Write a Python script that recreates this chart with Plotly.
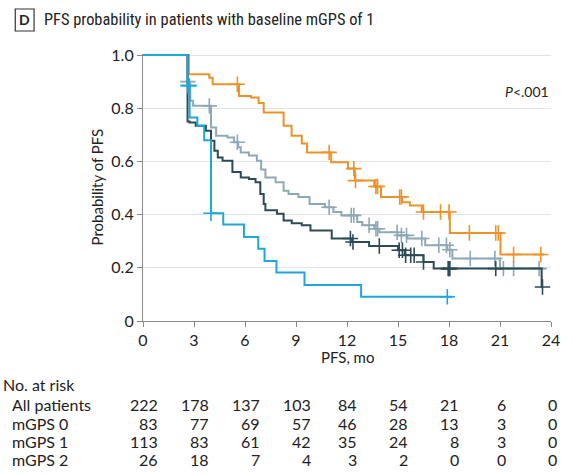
import plotly.graph_objects as go
import numpy as np

FONT = "Lato, Open Sans, sans-serif"
TFONT = "Roboto Condensed, Liberation Sans Narrow, Lato, sans-serif"

# ---- data ----
mgps0_t = [0, 2.7, 3.9, 4.1, 5.65, 6.35, 6.8, 7.1, 8.27, 8.74, 9.34, 9.65, 11.07, 12.06,
           12.46, 13.6, 14.0, 15.26, 15.7, 16.4, 18.05, 21.03]
mgps0_s = [1.0, 0.928, 0.915, 0.89, 0.846, 0.84, 0.82, 0.784, 0.734, 0.697, 0.667, 0.634,
           0.597, 0.573, 0.528, 0.506, 0.466, 0.447, 0.434, 0.41, 0.331, 0.25]
mgps0_end = 23.6
mgps0_cens = [5.55, 10.95, 12.4, 12.5, 13.7, 13.8, 15.1, 15.2, 16.5, 17.5, 18.0, 19.2,
              20.75, 20.9, 21.8, 23.4]

all_t = [0, 2.62, 2.78, 2.95, 4.0, 4.3, 4.97, 5.36, 5.6, 5.75, 6.23, 6.7, 6.95, 7.2, 7.8,
         8.27, 8.56, 9.14, 9.8, 10.7, 11.2, 11.67, 12.6, 12.9, 13.6, 13.9, 14.97, 15.55,
         16.6, 17.9, 18.2, 21.0]
all_s = [1.0, 0.9, 0.828, 0.809, 0.728, 0.697, 0.69, 0.672, 0.653, 0.634, 0.622, 0.603,
         0.57, 0.54, 0.522, 0.49, 0.478, 0.466, 0.44, 0.428, 0.41, 0.397, 0.372, 0.36,
         0.347, 0.334, 0.322, 0.31, 0.285, 0.268, 0.235, 0.197]
all_end = 23.6
all_cens = [2.64, 3.9, 5.55, 10.95, 12.25, 12.4, 13.3, 13.7, 13.8, 14.95, 15.2, 15.5,
            16.4, 17.4, 17.85, 18.05, 19.25, 20.7, 21.2, 21.8, 23.3]

mgps1_t = [0, 2.62, 2.74, 3.1, 3.7, 4.0, 4.2, 4.4, 4.68, 5.26, 5.75, 6.23, 6.62, 6.9, 7.1,
           7.2, 7.88, 8.27, 8.75, 9.34, 9.85, 11.1, 12.3, 13.3, 15.0, 15.4, 16.5, 17.1, 23.45]
mgps1_s = [1.0, 0.75, 0.746, 0.734, 0.715, 0.678, 0.64, 0.615, 0.603, 0.56, 0.54, 0.534,
           0.522, 0.478, 0.44, 0.416, 0.403, 0.378, 0.368, 0.36, 0.34, 0.31, 0.297, 0.282,
           0.266, 0.247, 0.222, 0.197, 0.128]
mgps1_end = 23.5
mgps1_cens = [12.2, 12.35, 13.9, 15.07, 15.26, 15.45, 15.75, 15.95, 16.5, 17.95, 18.0,
              18.05, 20.75, 23.5]

mgps2_t = [0, 2.62, 2.74, 3.2, 3.6, 4.0, 4.72, 5.94, 6.78, 7.15, 7.85, 9.5, 12.83]
mgps2_s = [1.0, 0.885, 0.765, 0.734, 0.68, 0.405, 0.363, 0.316, 0.272, 0.226, 0.182,
           0.135, 0.091]
mgps2_end = 18.2
mgps2_cens = [2.64, 2.72, 4.0, 17.9]

risk_times = [0, 3, 6, 9, 12, 15, 18, 21, 24]
risk_labels = ["All patients", "mGPS 0", "mGPS 1", "mGPS 2"]
risk_all = [222, 178, 137, 103, 84, 54, 21, 6, 0]
risk_mgps0 = [83, 77, 69, 57, 46, 28, 13, 3, 0]
risk_mgps1 = [113, 83, 61, 42, 35, 24, 8, 3, 0]
risk_mgps2 = [26, 18, 7, 4, 3, 2, 0, 0, 0]

C_ORANGE = "#EE9127"
C_GRAY = "#8EA9B6"
C_DARK = "#2C4B57"
C_BLUE = "#1EA7DC"

series = [
    ("All patients", all_t, all_s, all_end, all_cens, C_GRAY),
    ("mGPS 0", mgps0_t, mgps0_s, mgps0_end, mgps0_cens, C_ORANGE),
    ("mGPS 1", mgps1_t, mgps1_s, mgps1_end, mgps1_cens, C_DARK),
    ("mGPS 2", mgps2_t, mgps2_s, mgps2_end, mgps2_cens, C_BLUE),
]


def surv_at(ts, ss, t):
    idx = np.searchsorted(np.array(ts), t, side="right") - 1
    return ss[max(idx, 0)]


fig = go.Figure()
for name, ts, ss, end, cens, col in series:
    x = list(ts) + [end]
    y = list(ss) + [ss[-1]]
    fig.add_trace(go.Scatter(x=x, y=y, mode="lines", line=dict(shape="hv", color=col, width=2),
                             name=name, showlegend=False, hoverinfo="skip"))
    fig.add_trace(go.Scatter(x=cens, y=[surv_at(ts, ss, c) for c in cens], mode="markers",
                             marker=dict(symbol="cross-thin-open", size=11, color=col,
                                         line=dict(color=col, width=1.6)),
                             showlegend=False, hoverinfo="skip", cliponaxis=False))

# plot geometry in px
L, R, T, B = 143, 17, 54, 153
PW, PH = 572 - L - R, 474 - T - B


def py(ypx):
    return (474 - B - ypx) / PH


def px(xpx):
    return (xpx - L) / PW


TXT = "#222"
ann = []
ann.append(dict(x=px(23.5), y=py(20), xref="paper", yref="paper", text="<b>D</b>",
                showarrow=False, xanchor="center", yanchor="middle",
                font=dict(family=FONT, size=14, color=TXT)))
ann.append(dict(x=px(41), y=py(20), xref="paper", yref="paper",
                text="PFS probability in patients with baseline mGPS of 1",
                showarrow=False, xanchor="left", yanchor="middle",
                font=dict(family=TFONT, size=16.4, color=TXT)))
ann.append(dict(x=23.75, y=py(91), xref="x", yref="paper", text="<i>P</i><.001",
                showarrow=False, xanchor="right", yanchor="middle", xshift=4,
                font=dict(family=FONT, size=14, color=TXT)))
ann.append(dict(x=12, y=py(357), xref="x", yref="paper", text="PFS, mo",
                showarrow=False, xanchor="center", yanchor="middle",
                font=dict(family=FONT, size=15, color=TXT)))
ann.append(dict(x=px(97), y=py(187), xref="paper", yref="paper", text="Probability of PFS",
                showarrow=False, textangle=-90, xanchor="center", yanchor="middle",
                font=dict(family=FONT, size=15, color=TXT)))
ann.append(dict(x=px(0), y=py(384), xref="paper", yref="paper", text="No. at risk",
                showarrow=False, xanchor="left", yanchor="middle",
                font=dict(family=FONT, size=16, color=TXT)))

rows = [risk_all, risk_mgps0, risk_mgps1, risk_mgps2]
row_y = [404, 423, 441, 459]
CW = 9.2
for lab, vals, yy in zip(risk_labels, rows, row_y):
    ann.append(dict(x=px(9), y=py(yy), xref="paper", yref="paper", text=lab,
                    showarrow=False, xanchor="left", yanchor="middle",
                    font=dict(family=FONT, size=16, color=TXT)))
for j, t in enumerate(risk_times):
    maxlen = max(len(str(r[j])) for r in rows)
    for vals, yy in zip(rows, row_y):
        ann.append(dict(x=t, y=py(yy), xref="x", yref="paper", text=str(vals[j]),
                        showarrow=False, xanchor="right", yanchor="middle",
                        xshift=maxlen * CW / 2 + 3,
                        font=dict(family=FONT, size=16, color=TXT)))

fig.update_layout(
    width=572, height=474,
    margin=dict(l=L, r=R, t=T, b=B),
    plot_bgcolor="white", paper_bgcolor="white",
    font=dict(family=FONT, size=16, color=TXT),
    annotations=ann,
    shapes=[dict(type="rect", xref="paper", yref="paper", x0=px(14), x1=px(33),
                 y0=py(31), y1=py(9), line=dict(color="#333", width=1.2))],
    xaxis=dict(range=[0, 24], tickvals=risk_times, ticks="outside", ticklen=5,
               tickcolor="#888", showline=True, linecolor="#888", linewidth=1.2,
               showgrid=False, zeroline=False, tickfont=dict(size=16, color=TXT)),
    yaxis=dict(range=[0, 1.004], tickvals=[0, 0.2, 0.4, 0.6, 0.8, 1.0],
               ticktext=["0", "0.2", "0.4", "0.6", "0.8", "1.0"], ticks="outside",
               ticklen=5, tickcolor="#888", showline=True, linecolor="#888", linewidth=1.2,
               showgrid=True, gridcolor="#E3E3E3", gridwidth=1.2, zeroline=False,
               tickfont=dict(size=16, color=TXT)),
)

fig.write_html("out.html", config={"displayModeBar": False},
               post_script="document.body.style.margin='0';")
